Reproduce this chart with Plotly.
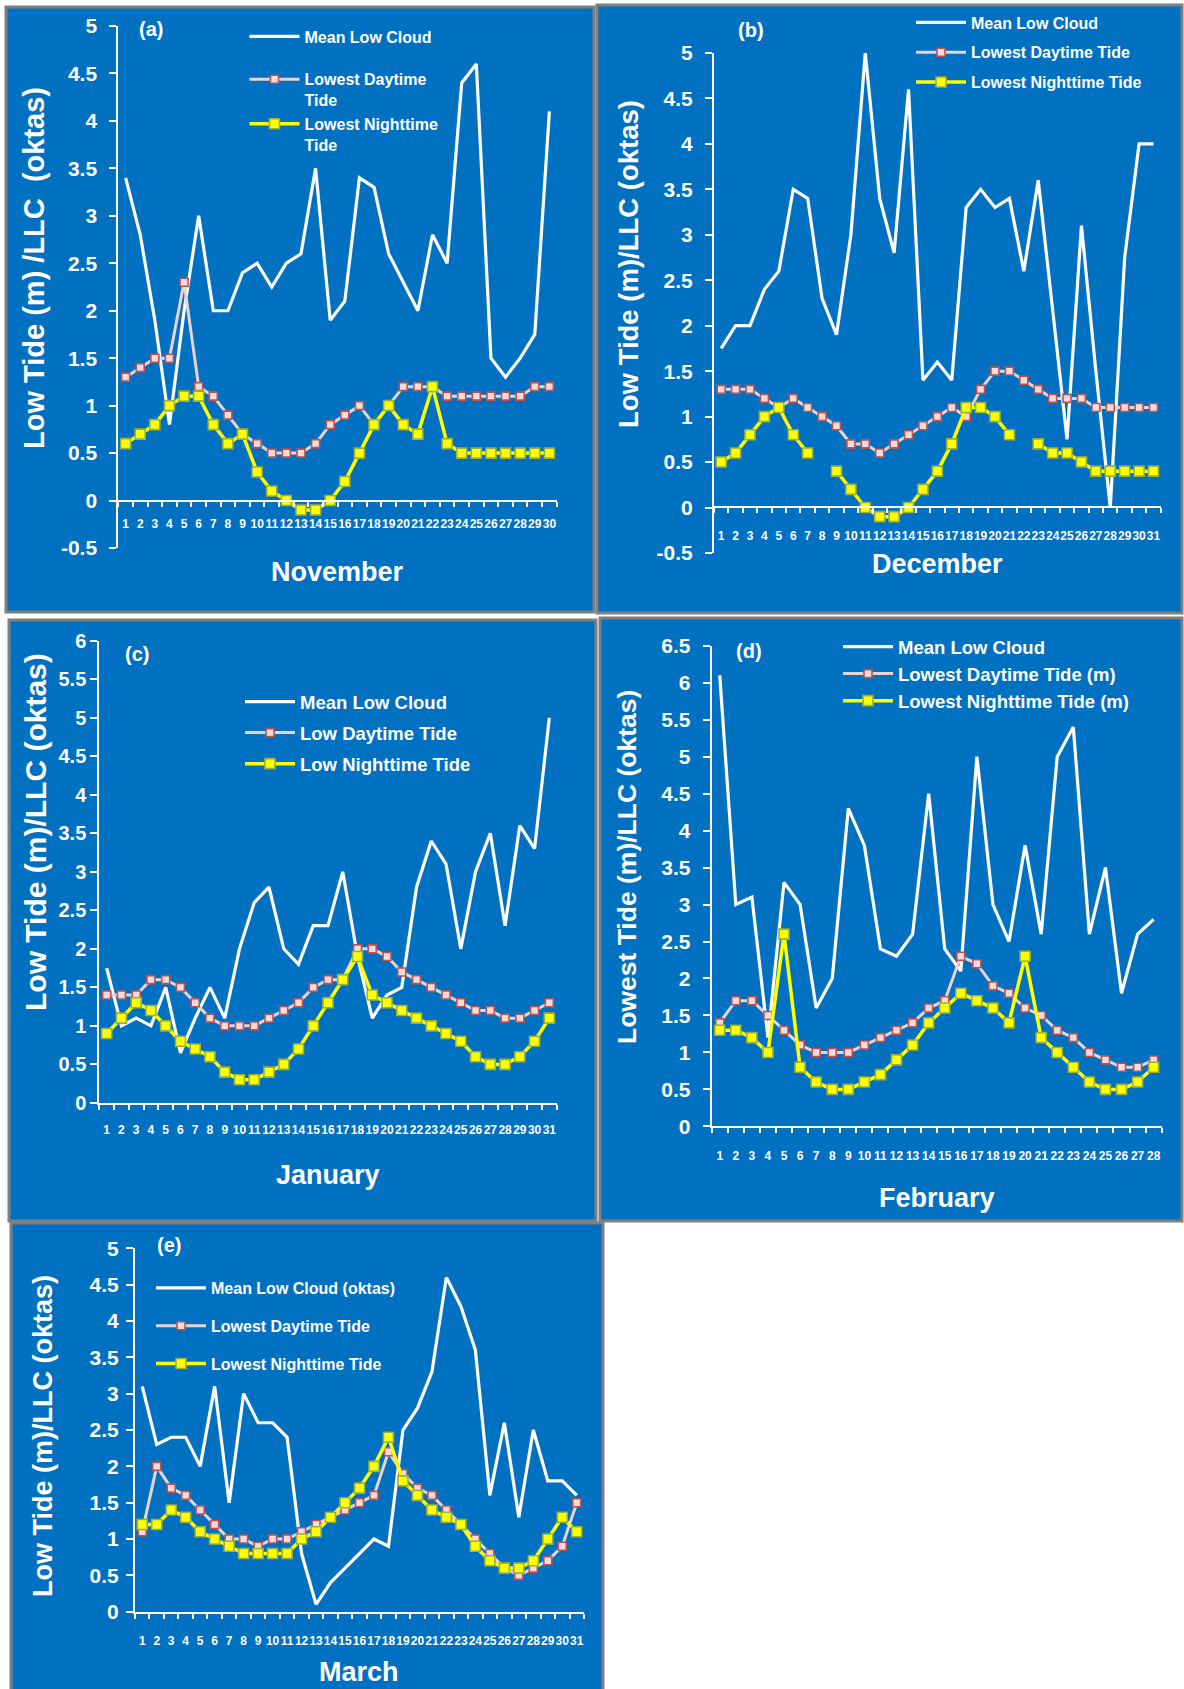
"""
Five-panel figure: mean low cloud vs lowest daytime / nighttime tide,
November to March. One blue panel per month.
"""
import plotly.graph_objects as go

# ---- data ----
nov_days = list(range(1, 31))
nov_cloud = [3.4, 2.8, 1.9, 0.8, 2.0, 3.0, 2.0, 2.0, 2.4, 2.5, 2.25, 2.5, 2.6, 3.5, 1.9,
             2.1, 3.4, 3.3, 2.6, 2.3, 2.0, 2.8, 2.5, 4.4, 4.6, 1.5, 1.3, 1.5, 1.75, 4.1]
nov_day = [1.3, 1.4, 1.5, 1.5, 2.3, 1.2, 1.1, 0.9, 0.7, 0.6, 0.5, 0.5, 0.5, 0.6, 0.8,
           0.9, 1.0, 0.8, 1.0, 1.2, 1.2, 1.2, 1.1, 1.1, 1.1, 1.1, 1.1, 1.1, 1.2, 1.2]
nov_night = [0.6, 0.7, 0.8, 1.0, 1.1, 1.1, 0.8, 0.6, 0.7, 0.3, 0.1, 0.0, -0.1, -0.1, 0.0,
             0.2, 0.5, 0.8, 1.0, 0.8, 0.7, 1.2, 0.6, 0.5, 0.5, 0.5, 0.5, 0.5, 0.5, 0.5]

dec_days = list(range(1, 32))
dec_cloud = [1.75, 2.0, 2.0, 2.4, 2.6, 3.5, 3.4, 2.3, 1.9, 3.0, 5.0, 3.4, 2.8, 4.6, 1.4, 1.6,
             1.4, 3.3, 3.5, 3.3, 3.4, 2.6, 3.6, 2.2, 0.75, 3.1, 1.5, 0.0, 2.75, 4.0, 4.0]
dec_day = [1.3, 1.3, 1.3, 1.2, 1.1, 1.2, 1.1, 1.0, 0.9, 0.7, 0.7, 0.6, 0.7, 0.8, 0.9, 1.0,
           1.1, 1.0, 1.3, 1.5, 1.5, 1.4, 1.3, 1.2, 1.2, 1.2, 1.1, 1.1, 1.1, 1.1, 1.1]
dec_night = [0.5, 0.6, 0.8, 1.0, 1.1, 0.8, 0.6, None, 0.4, 0.2, 0.0, -0.1, -0.1, 0.0, 0.2, 0.4,
             0.7, 1.1, 1.1, 1.0, 0.8, None, 0.7, 0.6, 0.6, 0.5, 0.4, 0.4, 0.4, 0.4, 0.4]

jan_days = list(range(1, 32))
jan_cloud = [1.75, 1.0, 1.1, 1.0, 1.5, 0.65, 1.1, 1.5, 1.1, 2.0, 2.6, 2.8, 2.0, 1.8, 2.3, 2.3,
             3.0, 1.9, 1.1, 1.4, 1.5, 2.8, 3.4, 3.1, 2.0, 3.0, 3.5, 2.3, 3.6, 3.3, 5.0]
jan_day = [1.4, 1.4, 1.4, 1.6, 1.6, 1.5, 1.3, 1.1, 1.0, 1.0, 1.0, 1.1, 1.2, 1.3, 1.5, 1.6,
           1.6, 2.0, 2.0, 1.9, 1.7, 1.6, 1.5, 1.4, 1.3, 1.2, 1.2, 1.1, 1.1, 1.2, 1.3]
jan_night = [0.9, 1.1, 1.3, 1.2, 1.0, 0.8, 0.7, 0.6, 0.4, 0.3, 0.3, 0.4, 0.5, 0.7, 1.0, 1.3,
             1.6, 1.9, 1.4, 1.3, 1.2, 1.1, 1.0, 0.9, 0.8, 0.6, 0.5, 0.5, 0.6, 0.8, 1.1]

feb_days = list(range(1, 29))
feb_cloud = [6.1, 3.0, 3.1, 1.2, 3.3, 3.0, 1.6, 2.0, 4.3, 3.8, 2.4, 2.3, 2.6, 4.5,
             2.4, 2.1, 5.0, 3.0, 2.5, 3.8, 2.6, 5.0, 5.4, 2.6, 3.5, 1.8, 2.6, 2.8]
feb_day = [1.4, 1.7, 1.7, 1.5, 1.3, 1.1, 1.0, 1.0, 1.0, 1.1, 1.2, 1.3, 1.4, 1.6,
           1.7, 2.3, 2.2, 1.9, 1.8, 1.6, 1.5, 1.3, 1.2, 1.0, 0.9, 0.8, 0.8, 0.9]
feb_night = [1.3, 1.3, 1.2, 1.0, 2.6, 0.8, 0.6, 0.5, 0.5, 0.6, 0.7, 0.9, 1.1, 1.4,
             1.6, 1.8, 1.7, 1.6, 1.4, 2.3, 1.2, 1.0, 0.8, 0.6, 0.5, 0.5, 0.6, 0.8]

mar_days = list(range(1, 32))
mar_cloud = [3.1, 2.3, 2.4, 2.4, 2.0, 3.1, 1.5, 3.0, 2.6, 2.6, 2.4, 0.8, 0.1, 0.4, 0.6, 0.8,
             1.0, 0.9, 2.5, 2.8, 3.3, 4.6, 4.2, 3.6, 1.6, 2.6, 1.3, 2.5, 1.8, 1.8, 1.6]
mar_day = [1.1, 2.0, 1.7, 1.6, 1.4, 1.2, 1.0, 1.0, 0.9, 1.0, 1.0, 1.1, 1.2, 1.3, 1.4, 1.5,
           1.6, 2.2, 1.9, 1.7, 1.6, 1.4, 1.2, 1.0, 0.8, 0.6, 0.5, 0.6, 0.7, 0.9, 1.5]
mar_night = [1.2, 1.2, 1.4, 1.3, 1.1, 1.0, 0.9, 0.8, 0.8, 0.8, 0.8, 1.0, 1.1, 1.3, 1.5, 1.7,
             2.0, 2.4, 1.8, 1.6, 1.4, 1.3, 1.2, 0.9, 0.7, 0.6, 0.6, 0.7, 1.0, 1.3, 1.1]

# ---- layout helpers (pixel positions on a 1184 x 1689 page) ----
W, H = 1184, 1689
FONT = "Liberation Sans, Arial, sans-serif"
BLUE = "#0070C0"


def px(x):
    return x / W


def py(y):
    return 1 - y / H


# box = panel frame; xpx = x-axis extent; ypx = pixel rows of (ymin, ymax)
panels = [
    dict(letter="(a)", month="November", days=nov_days, series=(nov_cloud, nov_day, nov_night),
         names=("Mean Low Cloud", "Lowest Daytime<br>Tide", "Lowest Nighttime<br>Tide"),
         ytitle="Low Tide (m) /LLC  (oktas)", yrange=(-0.5, 5),
         box=(6, 7, 594, 612), xpx=(118.3, 556.7), ypx=(548, 26), xaxis_at=501,
         letter_at=(151, 29), month_at=(337, 572), ytitle_at=(34, 268), ytitle_size=29,
         leg_at=(244.5, 19.5), leg_size=16, leg_gap=19, leg_groups=("a", "b", "b"),
         xlab_off=12, ytick_size=21, ylab_off=8),
    dict(letter="(b)", month="December", days=dec_days, series=(dec_cloud, dec_day, dec_night),
         names=("Mean Low Cloud", "Lowest Daytime Tide", "Lowest Nighttime Tide"),
         ytitle="Low Tide (m)/LLC (oktas)", yrange=(-0.5, 5),
         box=(597, 5, 1182, 613), xpx=(714, 1160.7), ypx=(553, 52.9), xaxis_at=507,
         letter_at=(751, 30), month_at=(937, 564), ytitle_at=(628, 264), ytitle_size=27.5,
         leg_at=(911, 5.5), leg_size=16, leg_gap=6, leg_groups=("a", "b", "c"),
         xlab_off=18, ytick_size=21, ylab_off=8),
    dict(letter="(c)", month="January", days=jan_days, series=(jan_cloud, jan_day, jan_night),
         names=("Mean Low Cloud", "Low Daytime Tide", "Low Nighttime Tide"),
         ytitle="Low Tide (m)/LLC (oktas)", yrange=(0, 6),
         box=(9, 620, 596, 1221), xpx=(99.3, 556.7), ypx=(1102.9, 640.7), xaxis_at=None,
         letter_at=(137, 654), month_at=(328, 1175), ytitle_at=(35, 832), ytitle_size=30,
         leg_at=(240, 683), leg_size=18.5, leg_gap=4, leg_groups=("a", "b", "c"),
         xlab_off=15, ytick_size=20, ylab_off=0),
    dict(letter="(d)", month="February", days=feb_days, series=(feb_cloud, feb_day, feb_night),
         names=("Mean Low Cloud", "Lowest Daytime Tide (m)", "Lowest Nighttime Tide (m)"),
         ytitle="Lowest Tide (m)/LLC (oktas)", yrange=(0, 6.5),
         box=(600, 618, 1182, 1221), xpx=(711.7, 1161.7), ypx=(1126.4, 645.7), xaxis_at=None,
         letter_at=(749, 651), month_at=(937, 1198), ytitle_at=(627, 867), ytitle_size=26.5,
         leg_at=(838, 628), leg_size=18.5, leg_gap=0, leg_groups=("a", "a", "a"),
         xlab_off=17, ytick_size=21, ylab_off=8),
    dict(letter="(e)", month="March", days=mar_days, series=(mar_cloud, mar_day, mar_night),
         names=("Mean Low Cloud (oktas)", "Lowest Daytime Tide", "Lowest Nighttime Tide"),
         ytitle="Low Tide (m)/LLC (oktas)", yrange=(0, 5),
         box=(11, 1223, 603, 1692), xpx=(135, 584), ypx=(1611.7, 1248.3), xaxis_at=None,
         letter_at=(169, 1245), month_at=(359, 1672), ytitle_at=(43, 1436), ytitle_size=27,
         leg_at=(151, 1271), leg_size=16, leg_gap=14, leg_groups=("a", "b", "c"),
         xlab_off=17, ytick_size=21, ylab_off=3),
]

line_styles = [
    dict(mode="lines", line=dict(color="white", width=3.2)),
    dict(mode="lines+markers", line=dict(color="#EAD3D3", width=3),
         marker=dict(symbol="square", size=8, color="#F2DCDB",
                     line=dict(color="#C0504D", width=1.6))),
    dict(mode="lines+markers", line=dict(color="#FFFF00", width=3.5),
         marker=dict(symbol="square", size=10, color="#FFFF00",
                     line=dict(color="#9BAF3C", width=1.6))),
]

fig = go.Figure()
layout = dict(
    width=W, height=H, margin=dict(l=0, r=0, t=0, b=0, autoexpand=False),
    paper_bgcolor="white", plot_bgcolor="rgba(0,0,0,0)",
    font=dict(family=FONT, color="white"),
    shapes=[], annotations=[],
)


def note(text, x, y, size, angle=0):
    return dict(text=text, xref="paper", yref="paper", showarrow=False, textangle=angle,
                x=px(x), y=py(y), xanchor="center", yanchor="middle",
                font=dict(size=size, weight="bold", color="white", family=FONT))


for i, p in enumerate(panels, start=1):
    sfx = "" if i == 1 else str(i)
    leg = "legend" + sfx
    for k, (vals, name, style) in enumerate(zip(p["series"], p["names"], line_styles)):
        fig.add_trace(go.Scatter(
            x=p["days"], y=vals, name=name, xaxis="x" + sfx, yaxis="y" + sfx,
            legend=leg, legendgroup=f"{i}{p['leg_groups'][k]}", connectgaps=False,
            **style,
        ))

    y0, y1 = p["yrange"]
    yticks = [y0 + 0.5 * j for j in range(int(round((y1 - y0) / 0.5)) + 1)]
    n = len(p["days"])

    xaxis = dict(
        domain=[px(p["xpx"][0]), px(p["xpx"][1])],
        range=[0.5, n + 0.5], tickmode="array", tickvals=p["days"],
        ticktext=[str(d) for d in p["days"]], ticks="", tickangle=0,
        ticklabelstandoff=p["xlab_off"],
        tickfont=dict(size=12, weight="bold", color="white", family=FONT),
        showline=True, linecolor="white", linewidth=2, showgrid=False, zeroline=False,
        minor=dict(tickmode="array", tickvals=[d - 0.5 for d in p["days"]] + [n + 0.5],
                   ticks="outside", ticklen=5, tickwidth=2, tickcolor="white", showgrid=False),
        fixedrange=True,
    )
    if p["xaxis_at"] is None:
        xaxis["anchor"] = "y" + sfx
    else:
        xaxis["anchor"] = "free"
        xaxis["position"] = py(p["xaxis_at"])
    layout["xaxis" + sfx] = xaxis

    layout["yaxis" + sfx] = dict(
        domain=[py(p["ypx"][0]), py(p["ypx"][1])], anchor="x" + sfx,
        range=[y0, y1], tickmode="array", tickvals=yticks,
        ticktext=[f"{v:g}" for v in yticks],
        ticks="outside", ticklen=7, tickwidth=2, tickcolor="white",
        ticklabelstandoff=p["ylab_off"],
        tickfont=dict(size=p["ytick_size"], weight="bold", color="white", family=FONT),
        showline=True, linecolor="white", linewidth=2, showgrid=False, zeroline=False,
        fixedrange=True,
    )

    layout[leg] = dict(
        x=px(p["leg_at"][0]), y=py(p["leg_at"][1]), xanchor="left", yanchor="top",
        bgcolor="rgba(0,0,0,0)", borderwidth=0, valign="top", itemwidth=50,
        tracegroupgap=p["leg_gap"], traceorder="grouped",
        font=dict(size=p["leg_size"], weight="bold", color="white", family=FONT),
    )

    bx0, by0, bx1, by1 = p["box"]
    layout["shapes"].append(dict(
        type="rect", xref="paper", yref="paper", layer="below",
        x0=px(bx0), x1=px(bx1), y0=py(by1), y1=py(by0),
        fillcolor=BLUE, line=dict(color="#7F7F7F", width=3),
    ))

    layout["annotations"] += [
        note(p["letter"], *p["letter_at"], 20),
        note(p["month"], *p["month_at"], 27),
        note(p["ytitle"], *p["ytitle_at"], p["ytitle_size"], angle=-90),
    ]

fig.update_layout(**layout)
fig.write_html("out.html", config={"displayModeBar": False},
               post_script="document.body.style.margin='0';")
